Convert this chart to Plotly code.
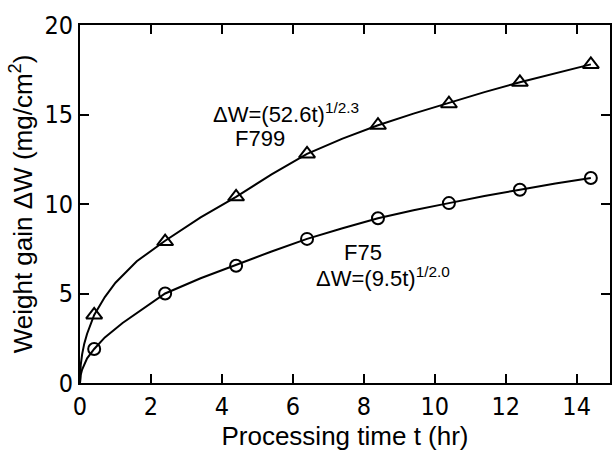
import plotly.graph_objects as go

# measured points
t_pts = [0.4, 2.4, 4.4, 6.4, 8.4, 10.4, 12.4, 14.4]
f799_pts = [3.8, 7.9, 10.4, 12.8, 14.4, 15.6, 16.8, 17.8]
f75_pts = [1.9, 5.0, 6.55, 8.05, 9.2, 10.05, 10.8, 11.45]

# fitted curves
f799_curve_t = [0, 0.02, 0.06, 0.12, 0.2, 0.4, 0.7, 1.0, 1.6, 2.4, 3.4, 4.4, 5.4, 6.4, 7.4, 8.4, 9.4, 10.4, 11.4, 12.4, 13.4, 14.4]
f799_curve_y = [0, 1.0, 1.6, 2.2, 2.75, 3.8, 4.8, 5.6, 6.8, 7.95, 9.25, 10.4, 11.65, 12.8, 13.65, 14.4, 15.05, 15.65, 16.25, 16.8, 17.3, 17.8]
f75_curve_t = [0, 0.02, 0.06, 0.12, 0.2, 0.4, 0.7, 1.2, 1.6, 2.4, 3.4, 4.4, 5.4, 6.4, 7.4, 8.4, 9.4, 10.4, 11.4, 12.4, 13.4, 14.4]
f75_curve_y = [0, 0.45, 0.75, 1.07, 1.38, 1.9, 2.55, 3.35, 3.9, 5.0, 5.85, 6.6, 7.35, 8.05, 8.65, 9.2, 9.65, 10.05, 10.45, 10.8, 11.15, 11.45]

x_ticks = [0, 2, 4, 6, 8, 10, 12, 14]
y_ticks = [0, 5, 10, 15, 20]

FONT = "Liberation Sans, Arial, sans-serif"
TICKFONT = "Liberation Sans Narrow, DejaVu Sans Condensed, Liberation Sans, sans-serif"

fig = go.Figure()
for ct, cy in [(f799_curve_t, f799_curve_y), (f75_curve_t, f75_curve_y)]:
    fig.add_trace(go.Scatter(x=ct, y=cy, mode="lines",
                             line=dict(color="black", width=2, shape="linear"),
                             showlegend=False, hoverinfo="skip"))
fig.add_trace(go.Scatter(x=t_pts, y=f799_pts, mode="markers",
                         marker=dict(symbol="triangle-up-open", size=14, color="black",
                                     line=dict(width=2, color="black")),
                         showlegend=False))
fig.add_trace(go.Scatter(x=t_pts, y=f75_pts, mode="markers",
                         marker=dict(symbol="circle-open", size=12, color="black",
                                     line=dict(width=2, color="black")),
                         showlegend=False))

ann_font = dict(family=FONT, size=22, color="black")
fig.add_annotation(x=5.8, y=15.1, xref="x", yref="y", showarrow=False,
                   text="ΔW=(52.6t)<sup>1/2.3</sup>", font=ann_font)
fig.add_annotation(x=5.06, y=13.65, xref="x", yref="y", showarrow=False,
                   text="F799", font=ann_font)
fig.add_annotation(x=7.98, y=7.3, xref="x", yref="y", showarrow=False,
                   text="F75", font=ann_font)
fig.add_annotation(x=8.55, y=5.9, xref="x", yref="y", showarrow=False,
                   text="ΔW=(9.5t)<sup>1/2.0</sup>", font=ann_font)

fig.update_layout(
    width=612, height=453,
    margin=dict(l=80, r=0, t=25, b=70),
    paper_bgcolor="white", plot_bgcolor="white",
    font=dict(family=FONT, color="black"),
    xaxis=dict(range=[0, 14.94], tickvals=x_ticks, ticks="inside", ticklen=9, tickwidth=2,
               tickcolor="black", showline=True, linecolor="black", linewidth=2, mirror="ticks",
               showgrid=False, zeroline=False, tickfont=dict(family=TICKFONT, size=25),
               title=dict(text="Processing time t (hr)", font=dict(family=FONT, size=26), standoff=2)),
    yaxis=dict(range=[0, 20], tickvals=y_ticks, ticks="inside", ticklen=9, tickwidth=2,
               tickcolor="black", showline=True, linecolor="black", linewidth=2, mirror="ticks",
               showgrid=False, zeroline=False, tickfont=dict(family=TICKFONT, size=25),
               title=dict(text="Weight gain ΔW (mg/cm<sup>2</sup>)", font=dict(family=FONT, size=26), standoff=4)),
)

fig.write_html("out.html", config={"displayModeBar": False},
               post_script="document.body.style.margin='0';document.body.style.padding='0';")
